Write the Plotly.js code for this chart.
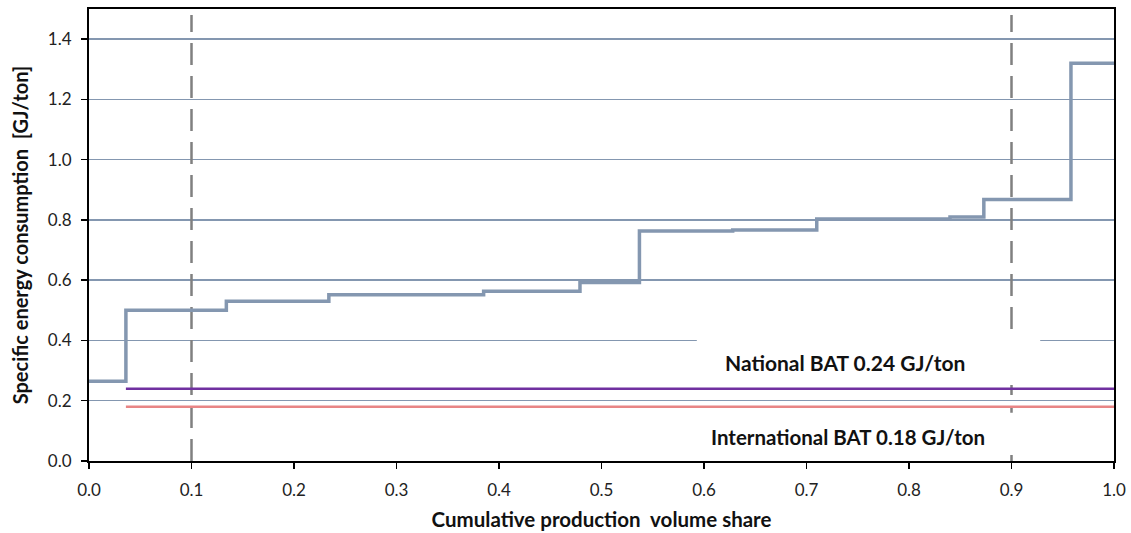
<!DOCTYPE html>
<html>
<head>
<meta charset="utf-8">
<script src="https://cdn.plot.ly/plotly-3.0.1.min.js"></script>
<style>html,body{margin:0;padding:0;background:#fff;}#chart{width:1131px;height:533px;}</style>
</head>
<body>
<div id="chart"></div>
<script>
// Cumulative production volume share (step starts) and specific energy consumption [GJ/ton]
const shareX = [0, 0.036, 0.134, 0.234, 0.385, 0.479, 0.537, 0.628, 0.710, 0.840, 0.873, 0.958, 1.0];
const energyY = [0.265, 0.50, 0.53, 0.552, 0.563, 0.592, 0.763, 0.767, 0.803, 0.81, 0.868, 1.32, 1.32];

const batStartX = 0.036;
const batEndX = 1.0;
const nationalBAT = 0.24;
const internationalBAT = 0.18;
const percentileX = [0.1, 0.9];

const xTicks = [0, 0.1, 0.2, 0.3, 0.4, 0.5, 0.6, 0.7, 0.8, 0.9, 1.0];
const yTicks = [0, 0.2, 0.4, 0.6, 0.8, 1.0, 1.2, 1.4];

const FONT = 'Lato, "Liberation Sans", sans-serif';

const traces = [];
percentileX.forEach(px => {
  traces.push({x: [px, px], y: [0, 1.48], mode: 'lines', hoverinfo: 'skip', showlegend: false,
    line: {color: '#808080', width: 2.5, dash: '22px,11px'}});
});
traces.push({x: [batStartX, batEndX], y: [internationalBAT, internationalBAT], mode: 'lines', showlegend: false,
  line: {color: '#e88585', width: 2.5}});
traces.push({x: [batStartX, batEndX], y: [nationalBAT, nationalBAT], mode: 'lines', showlegend: false,
  line: {color: '#7030a0', width: 2.5}});
traces.push({x: shareX, y: energyY, mode: 'lines', showlegend: false,
  line: {color: '#8497b0', width: 3.5, shape: 'hv'}});

const layout = {
  width: 1131, height: 533,
  margin: {l: 89, r: 17, t: 9, b: 72},
  paper_bgcolor: '#fff', plot_bgcolor: '#fff',
  font: {family: FONT, size: 17, color: '#222'},
  xaxis: {range: [0, 1.0], tickvals: xTicks, ticktext: xTicks.map(v => v.toFixed(1)),
    showgrid: false, zeroline: false, showline: true, linecolor: '#000', linewidth: 2, mirror: true,
    ticks: 'outside', ticklen: 6, tickwidth: 1.5, tickcolor: '#000', ticklabelstandoff: 7,
    tickfont: {family: FONT, size: 17, color: '#222'},
    title: {text: '<b>Cumulative production&nbsp; volume share</b>', font: {family: FONT, size: 20.5, color: '#111'}, standoff: 13}},
  yaxis: {range: [0, 1.5], tickvals: yTicks, ticktext: yTicks.map(v => v.toFixed(1)),
    showgrid: true, gridcolor: '#8497b0', gridwidth: 1.5, zeroline: false,
    showline: true, linecolor: '#000', linewidth: 2, mirror: true,
    ticks: 'outside', ticklen: 6, tickwidth: 1.5, tickcolor: '#000', ticklabelstandoff: 6,
    tickfont: {family: FONT, size: 17, color: '#222'},
    title: {text: '<b>Specific energy consumption&nbsp; [GJ/ton]</b>', font: {family: FONT, size: 20, color: '#111'}, standoff: 14}},
  shapes: [
    {type: 'rect', xref: 'x', yref: 'y', x0: 0.593, x1: 0.928, y0: 0.252, y1: 0.405, fillcolor: '#fff', line: {width: 0}, layer: 'above'},
    {type: 'rect', xref: 'x', yref: 'y', x0: 0.593, x1: 0.928, y0: 0.02, y1: 0.16, fillcolor: '#fff', line: {width: 0}, layer: 'above'}
  ],
  annotations: [
    {xref: 'x', yref: 'y', x: 0.7376, y: 0.328, text: '<b>National BAT 0.24 GJ/ton</b>', showarrow: false,
      font: {family: FONT, size: 21, color: '#111'}},
    {xref: 'x', yref: 'y', x: 0.7405, y: 0.079, text: '<b>International BAT 0.18 GJ/ton</b>', showarrow: false,
      font: {family: FONT, size: 20.5, color: '#111'}}
  ]
};

Plotly.newPlot('chart', traces, layout, {displayModeBar: false, staticPlot: true});
</script>
</body>
</html>
